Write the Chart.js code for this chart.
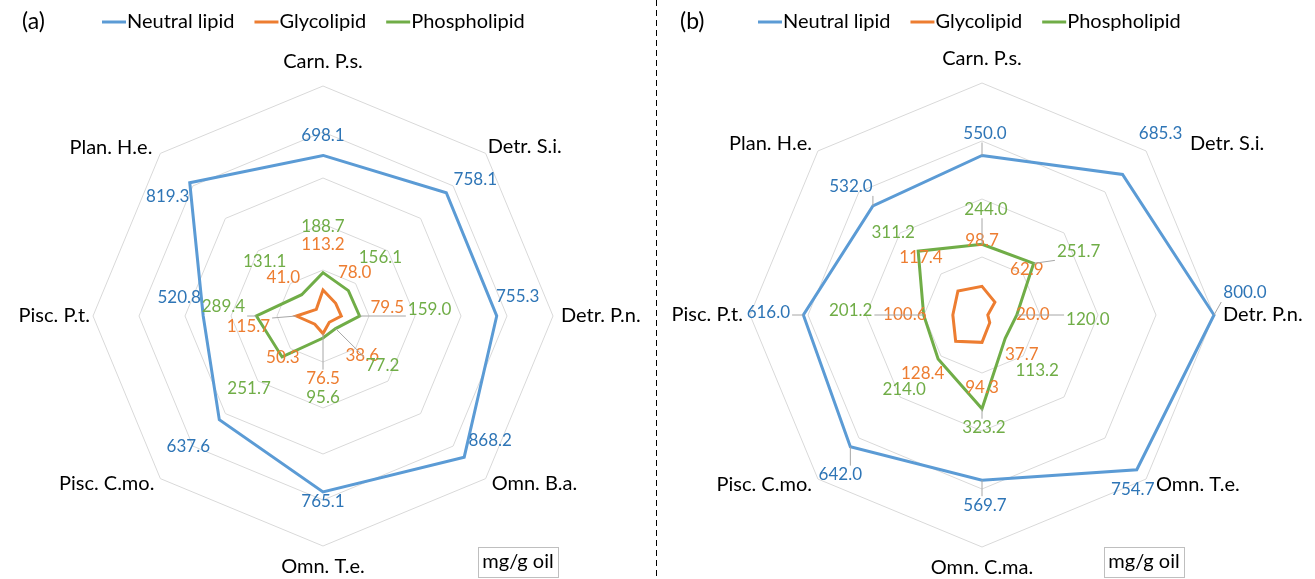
<!DOCTYPE html>
<html>
<head>
    <title>Lipid classes - radar charts</title>
    <script src="https://cdn.jsdelivr.net/npm/chart.js"></script>
    <style>
        body { margin: 0; background: #fff; }
        #wrap { position: relative; width: 1315px; height: 579px; overflow: hidden; }
        .panel { position: absolute; top: 0; width: 657px; height: 579px; }
        #panelA { left: 0; }
        #panelB { left: 658px; }
        /* dashed separator between the two panels */
        #divider {
            position: absolute; left: 656px; top: 0; width: 1px; height: 579px;
            background: repeating-linear-gradient(to bottom, #000 0 6px, transparent 6px 10px);
        }
    </style>
</head>
<body>
<div id="wrap">
    <div class="panel" id="panelA"><canvas id="chartA" width="657" height="579"></canvas></div>
    <div id="divider"></div>
    <div class="panel" id="panelB"><canvas id="chartB" width="657" height="579"></canvas></div>
</div>

<script>
    // series names (legend)
    const seriesNames = ['Neutral lipid', 'Glycolipid', 'Phospholipid'];

    // panel (a)
    const categoriesA = ['Carn. P.s.', 'Detr. S.i.', 'Detr. P.n.', 'Omn. B.a.', 'Omn. T.e.', 'Pisc. C.mo.', 'Pisc. P.t.', 'Plan. H.e.'];
    const neutralA = [698.1, 758.1, 755.3, 868.2, 765.1, 637.6, 520.8, 819.3];
    const glycoA = [113.2, 78.0, 79.5, 38.6, 76.5, 50.3, 115.7, 41.0];
    const phosphoA = [188.7, 156.1, 159.0, 77.2, 95.6, 251.7, 289.4, 131.1];
    const ticksA = [0, 200, 400, 600, 800, 1000];

    // panel (b)
    const categoriesB = ['Carn. P.s.', 'Detr. S.i.', 'Detr. P.n.', 'Omn. T.e.', 'Omn. C.ma.', 'Pisc. C.mo.', 'Pisc. P.t.', 'Plan. H.e.'];
    const neutralB = [550.0, 685.3, 800.0, 754.7, 569.7, 642.0, 616.0, 532.0];
    const glycoB = [98.7, 62.9, 20.0, 37.7, 94.3, 128.4, 100.6, 117.4];
    const phosphoB = [244.0, 251.7, 120.0, 113.2, 323.2, 214.0, 201.2, 311.2];
    const ticksB = [0, 200, 400, 600, 800];

    // value label placement relative to each point: [dx, dy, leader line?]
    const labelPosA = [
        [[0, -20, 0], [29, -13, 0], [21, -19, 0], [26, -17, 0], [0, 10, 0], [-31, 27, 0], [-24, -18, 0], [-22, 14, 0]],
        [[0, -45, 0], [19, -31, 0], [46, -8, 0], [33, 33, 0], [0, 45, 1], [-32, 33, 0], [-48, 11, 1], [-33, -32, 0]],
        [[0, -46, 0], [32, -33, 0], [70, -6, 1], [47, 37, 1], [0, 60, 0], [-33, 32, 0], [-33, -9, 1], [-37, -33, 0]]
    ];
    const labelPosB = [
        [[3, -22, 1], [38, -41, 0], [31, -22, 1], [-4, 20, 0], [3, 25, 1], [-10, 28, 1], [-35, -2, 1], [-22, -19, 1]],
        [[0, -46, 0], [32, -33, 0], [45, 0, 0], [32, 32, 0], [0, 45, 0], [-33, 32, 0], [-48, 0, 0], [-37, -33, 0]],
        [[4, -35, 1], [45, -12, 1], [71, 5, 1], [32, 32, 0], [2, 19, 1], [-34, 31, 0], [-73, -4, 1], [-25, -19, 0]]
    ];

    // category label placement next to the outer ring vertex: [align, dx, dy]
    const catPosA = [
        ['center', 0, -24], ['left', 2, -7], ['left', 8, 0], ['left', 6, 5],
        ['center', 0, 21], ['right', -6, 5], ['right', -3, 0], ['right', -8, -6]
    ];
    const catPosB = [
        ['center', 0, -24], ['left', 44, -7], ['left', 9, 0], ['left', 10, 5],
        ['center', 0, 21], ['right', -6, 5], ['right', -7, 0], ['right', -6, -7]
    ];

    const lineColors = ['#5B9BD5', '#ED7D31', '#70AD47'];
    const textColors = ['#2E75B6', '#ED7D31', '#70AD47'];
    const FONT = 'Lato, "Open Sans", sans-serif';

    // draws value labels, category labels, legend, panel tag and unit box
    const extrasPlugin = {
        id: 'extras',
        afterDatasetsDraw(chart, args, opts) {
            const ctx = chart.ctx;
            ctx.save();
            ctx.font = '17px ' + FONT;
            ctx.textAlign = 'center';
            ctx.textBaseline = 'middle';
            chart.data.datasets.forEach((ds, di) => {
                const meta = chart.getDatasetMeta(di);
                meta.data.forEach((pt, i) => {
                    const p = opts.labelPos[di][i];
                    const txt = ds.data[i].toFixed(1);
                    const lx = pt.x + p[0], ly = pt.y + p[1];
                    if (p[2]) {
                        const w = ctx.measureText(txt).width / 2 + 2, h = 9;
                        const cx = Math.min(Math.max(pt.x, lx - w), lx + w);
                        const cy = Math.min(Math.max(pt.y, ly - h), ly + h);
                        ctx.strokeStyle = '#a6a6a6';
                        ctx.lineWidth = 1;
                        ctx.beginPath();
                        ctx.moveTo(pt.x, pt.y);
                        ctx.lineTo(cx, cy);
                        ctx.stroke();
                    }
                    ctx.fillStyle = textColors[di];
                    ctx.fillText(txt, lx, ly);
                });
            });
            ctx.restore();
        },
        afterDraw(chart, args, opts) {
            const ctx = chart.ctx;
            const r = chart.scales.r;
            ctx.save();
            ctx.fillStyle = '#000';
            ctx.textBaseline = 'middle';

            // category labels around the outer ring
            ctx.font = '20px ' + FONT;
            chart.data.labels.forEach((lab, i) => {
                const v = r.getPointPosition(i, r.drawingArea);
                const p = opts.catPos[i];
                ctx.textAlign = p[0];
                ctx.fillText(lab, v.x + p[1], v.y + p[2]);
            });

            // panel tag
            ctx.font = '23px ' + FONT;
            ctx.textAlign = 'left';
            ctx.fillText(opts.tag, 22, 22);

            // legend
            ctx.font = '20px ' + FONT;
            let x = opts.legendX;
            seriesNames.forEach((name, i) => {
                ctx.strokeStyle = lineColors[i];
                ctx.lineWidth = 3;
                ctx.beginPath();
                ctx.moveTo(x, 22);
                ctx.lineTo(x + 24, 22);
                ctx.stroke();
                ctx.fillText(name, x + 25, 22);
                x += 25 + ctx.measureText(name).width + 20;
            });

            // unit box
            ctx.strokeStyle = '#bfbfbf';
            ctx.lineWidth = 1;
            ctx.strokeRect(opts.unitX + 0.5, 547.5, 80, 30);
            ctx.font = '20px ' + FONT;
            ctx.textAlign = 'center';
            ctx.fillText('mg/g oil', opts.unitX + 40, 562);
            ctx.restore();
        }
    };

    function makeChart(id, labels, series, ticks, padding, extras) {
        const datasets = series.map((values, i) => ({
            label: seriesNames[i],
            data: values,
            borderColor: lineColors[i],
            backgroundColor: lineColors[i],
            borderWidth: 3,
            pointRadius: 0,
            fill: false,
            tension: 0
        }));
        return new Chart(document.getElementById(id).getContext('2d'), {
            type: 'radar',
            data: { labels: labels, datasets: datasets },
            options: {
                responsive: false,
                animation: false,
                layout: { padding: padding },
                plugins: {
                    legend: { display: false },
                    tooltip: { enabled: false },
                    extras: extras
                },
                scales: {
                    r: {
                        min: ticks[0],
                        max: ticks[ticks.length - 1],
                        ticks: { stepSize: ticks[1] - ticks[0], display: false },
                        grid: { color: '#d9d9d9', lineWidth: 1, circular: false },
                        angleLines: { display: false },
                        pointLabels: { display: false }
                    }
                }
            },
            plugins: [extrasPlugin]
        });
    }

    makeChart('chartA', categoriesA, [neutralA, glycoA, phosphoA], ticksA,
        { left: 93, right: 104, top: 86, bottom: 33 },
        { labelPos: labelPosA, catPos: catPosA, tag: '(a)', legendX: 102, unitX: 478 });
    makeChart('chartB', categoriesB, [neutralB, glycoB, phosphoB], ticksB,
        { left: 92, right: 101, top: 83, bottom: 32 },
        { labelPos: labelPosB, catPos: catPosB, tag: '(b)', legendX: 100, unitX: 446 });
</script>
</body>
</html>
